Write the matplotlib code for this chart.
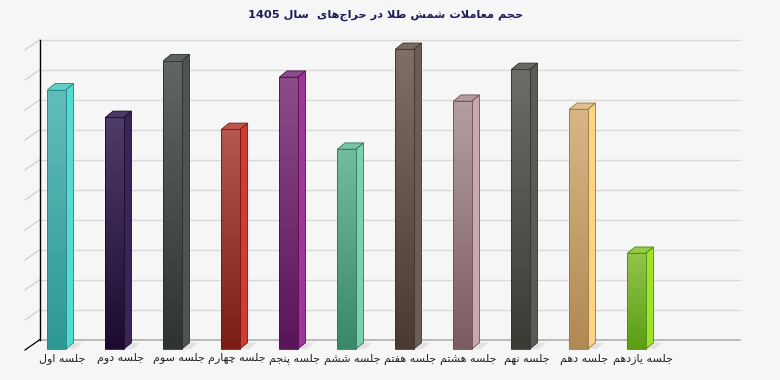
import re
import numpy as np
import matplotlib
matplotlib.use('Agg')
import matplotlib.pyplot as plt
from matplotlib.colors import LinearSegmentedColormap, to_rgb
from matplotlib.patches import Polygon, Rectangle

# data (no axis labels, so units are grid steps)
title = 'حجم معاملات شمش طلا در حراج‌های  سال 1405'
sessions = ['جلسه اول', 'جلسه دوم', 'جلسه سوم', 'جلسه چهارم', 'جلسه پنجم',
            'جلسه ششم', 'جلسه هفتم', 'جلسه هشتم', 'جلسه نهم', 'جلسه دهم',
            'جلسه یازدهم']
volumes = [8.64, 7.72, 9.61, 7.32, 9.06, 6.66, 9.99, 8.26, 9.32, 7.99, 3.19]

# front top, front bottom, side, top
bar_colors = [
    ('#62bcbc', '#2e9894', '#52dcd6', '#5ed0cc'),
    ('#4e3c68', '#1c0c30', '#3c2456', '#4a3866'),
    ('#5e6666', '#2e3434', '#4c5454', '#5a6262'),
    ('#b4574d', '#7c1e16', '#d43a32', '#c0544a'),
    ('#8c4c8a', '#5a1458', '#a2349e', '#8e4a8c'),
    ('#72bc9e', '#3a8868', '#78d2ae', '#78c4a4'),
    ('#7e6e66', '#4a3a32', '#6c5c54', '#7a6a62'),
    ('#b49ea0', '#7c5c60', '#c8a8ac', '#b49ca0'),
    ('#6e6c66', '#3c3a34', '#5c5a54', '#6a6862'),
    ('#d8b684', '#b08a52', '#ffd386', '#e0c08c'),
    ('#92c44a', '#5a9e14', '#9ee42a', '#94cc48'),
]

# --- minimal persian shaping (matplotlib has no bidi / joining) ---
FORMS = {
    'ا': ('\uFE8D', '\uFE8E', None, None),
    'د': ('\uFEA9', '\uFEAA', None, None),
    'ر': ('\uFEAD', '\uFEAE', None, None),
    'ز': ('\uFEAF', '\uFEB0', None, None),
    'و': ('\uFEED', '\uFEEE', None, None),
    'پ': ('\uFB56', '\uFB57', '\uFB58', '\uFB59'),
    'ت': ('\uFE95', '\uFE96', '\uFE97', '\uFE98'),
    'ج': ('\uFE9D', '\uFE9E', '\uFE9F', '\uFEA0'),
    'چ': ('\uFB7A', '\uFB7B', '\uFB7C', '\uFB7D'),
    'ح': ('\uFEA1', '\uFEA2', '\uFEA3', '\uFEA4'),
    'س': ('\uFEB1', '\uFEB2', '\uFEB3', '\uFEB4'),
    'ش': ('\uFEB5', '\uFEB6', '\uFEB7', '\uFEB8'),
    'ط': ('\uFEC1', '\uFEC2', '\uFEC3', '\uFEC4'),
    'ع': ('\uFEC9', '\uFECA', '\uFECB', '\uFECC'),
    'ف': ('\uFED1', '\uFED2', '\uFED3', '\uFED4'),
    'ل': ('\uFEDD', '\uFEDE', '\uFEDF', '\uFEE0'),
    'م': ('\uFEE1', '\uFEE2', '\uFEE3', '\uFEE4'),
    'ن': ('\uFEE5', '\uFEE6', '\uFEE7', '\uFEE8'),
    'ه': ('\uFEE9', '\uFEEA', '\uFEEB', '\uFEEC'),
    'ی': ('\uFBFC', '\uFBFD', '\uFBFE', '\uFBFF'),
}
LAM_ALEF = ('\uFEFB', '\uFEFC')


def joins_next(c):
    return c in FORMS and FORMS[c][2] is not None


def shape(s):
    out = []
    i, n = 0, len(s)
    while i < n:
        c = s[i]
        if c not in FORMS:
            if c != '\u200c':
                out.append(c)
            i += 1
            continue
        left = i > 0 and joins_next(s[i - 1])
        if c == 'ل' and i + 1 < n and s[i + 1] == 'ا':
            out.append(LAM_ALEF[1 if left else 0])
            i += 2
            continue
        right = joins_next(c) and i + 1 < n and s[i + 1] in FORMS
        iso, fin, ini, med = FORMS[c]
        out.append(med if left and right else fin if left else ini if right else iso)
        i += 1
    vis = ''.join(out)[::-1]
    return re.sub(r'\d+', lambda m: m.group(0)[::-1], vis)


def darker(c, f=0.75):
    return tuple(v * f for v in to_rgb(c))


W, H = 780, 380
fig = plt.figure(figsize=(W / 100, H / 100), dpi=100, facecolor='#f6f6f6')


def px_axes(left, top, width, height):
    return fig.add_axes([left / W, 1 - (top + height) / H, width / W, height / H])


xlim = (-0.52, 11.55)
ylim = (0, 10)
back = px_axes(40, 39.5, 700, 300)    # wall plane
front = px_axes(26.4, 49, 700, 300)   # front plane of the bars
for ax in (back, front):
    ax.set_xlim(xlim)
    ax.set_ylim(ylim)
    ax.axis('off')

ux = 700 / (xlim[1] - xlim[0])   # px per category
uy = 300 / (ylim[1] - ylim[0])   # px per grid step

# wall grid + side-wall diagonals
for k in range(11):
    col = '#a8a8a8' if k == 0 else '#d9d9d9'
    back.plot(xlim, [k, k], color=col, lw=1.1 if k == 0 else 1.0, clip_on=False, zorder=1)
    back.plot([xlim[0], xlim[0] - 15 / ux], [k, k - 10.5 / uy],
              color='black' if k == 0 else '#cfcfcf', lw=0.9, clip_on=False, zorder=1)
back.plot([xlim[0], xlim[0]], ylim, color='black', lw=1.0, clip_on=False, zorder=2)

bw = 18.4 / ux
dx = 7.7 / ux
dy = 6.3 / uy
sh = 9 / ux

for i, (name, v) in enumerate(zip(sessions, volumes)):
    ftop, fbot, side, top = bar_colors[i]
    x0, x1 = i - bw / 2, i + bw / 2
    edge = darker(fbot, 0.85)

    # floor shadow
    front.add_patch(Polygon([(x1, 0), (x1 + dx, dy), (x1 + dx + sh, dy), (x1 + sh, 0)],
                            closed=True, facecolor='#e2e2e2', edgecolor='none',
                            zorder=1, clip_on=False))
    # side face
    front.add_patch(Polygon([(x1, 0), (x1 + dx, dy), (x1 + dx, v + dy), (x1, v)],
                            closed=True, facecolor=side, edgecolor=edge, lw=0.6,
                            zorder=2, clip_on=False))
    # top face
    front.add_patch(Polygon([(x0, v), (x1, v), (x1 + dx, v + dy), (x0 + dx, v + dy)],
                            closed=True, facecolor=top, edgecolor=edge, lw=0.6,
                            zorder=2, clip_on=False))
    # front face with vertical gradient
    cmap = LinearSegmentedColormap.from_list('g%d' % i, [fbot, ftop])
    front.imshow(np.linspace(0, 1, 64)[:, None], cmap=cmap, origin='lower',
                 extent=(x0, x1, 0, v), aspect='auto', zorder=3,
                 interpolation='bilinear')
    front.add_patch(Rectangle((x0, 0), bw, v, fill=False, edgecolor=edge,
                              lw=0.6, zorder=4, clip_on=False))

    front.annotate(shape(name), xy=(i, 0), xytext=(6, -10), textcoords='offset pixels',
                   ha='center', va='center', fontsize=8, color='#222222',
                   annotation_clip=False)

front.set_xlim(xlim)
front.set_ylim(ylim)

fig.text(386 / W, 1 - 15 / H, shape(title), ha='center', va='center',
         fontsize=8.2, fontweight='bold', color='#1c1c5c')

fig.savefig('out.png', dpi=100, facecolor=fig.get_facecolor())
